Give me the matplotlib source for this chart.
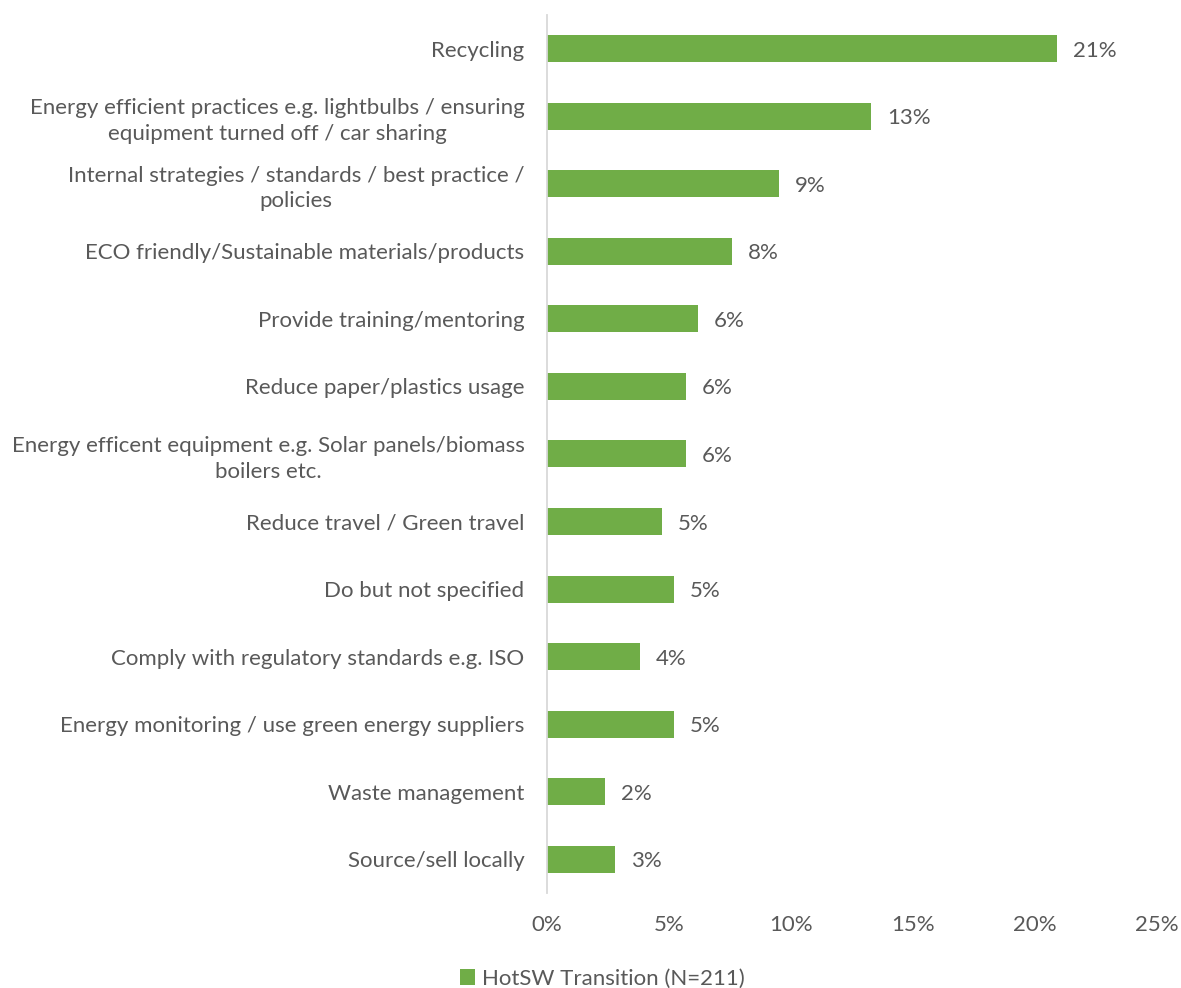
import matplotlib.pyplot as plt
from matplotlib.ticker import FuncFormatter

categories = [
    'Recycling',
    'Energy efficient practices e.g. lightbulbs / ensuring\nequipment turned off / car sharing',
    'Internal strategies / standards / best practice /\npolicies',
    'ECO friendly/Sustainable materials/products',
    'Provide training/mentoring',
    'Reduce paper/plastics usage',
    'Energy efficent equipment e.g. Solar panels/biomass\nboilers etc.',
    'Reduce travel / Green travel',
    'Do but not specified',
    'Comply with regulatory standards e.g. ISO',
    'Energy monitoring / use green energy suppliers',
    'Waste management',
    'Source/sell locally',
]
values = [20.9, 13.3, 9.5, 7.6, 6.2, 5.7, 5.7, 4.7, 5.2, 3.8, 5.2, 2.4, 2.8]
value_labels = ['21%', '13%', '9%', '8%', '6%', '6%', '6%', '5%', '5%', '4%', '5%', '2%', '3%']
series_name = 'HotSW Transition (N=211)'

GREEN = '#70AD47'
TEXT = '#595959'
FS = 16

plt.rcParams['font.family'] = ['Lato', 'DejaVu Sans']

fig = plt.figure(figsize=(11.81, 9.88), dpi=100)
ax = fig.add_axes([0.463, 0.0962, 0.5167, 0.8886])

pos = list(range(len(categories)))
bars = ax.barh(pos, values, height=0.4, color=GREEN, label=series_name)
ax.set_ylim(len(categories) - 0.5, -0.5)
ax.set_xlim(0, 25)
ax.set_xticks([0, 5, 10, 15, 20, 25])
ax.xaxis.set_major_formatter(FuncFormatter(lambda v, p: f'{v:.0f}%'))

for b, lab in zip(bars, value_labels):
    ax.text(b.get_width() + 0.65, b.get_y() + b.get_height() / 2, lab,
            va='center_baseline', ha='left', fontsize=FS, color=TEXT)

ax.set_yticks(pos)
ax.set_yticklabels(categories, fontsize=FS, color=TEXT, ha='right',
                   multialignment='center', linespacing=1.35)
ax.tick_params(axis='y', length=0, pad=16)
ax.tick_params(axis='x', length=0, pad=16, labelsize=FS, labelcolor=TEXT)

for s in ['top', 'right', 'bottom']:
    ax.spines[s].set_visible(False)
ax.spines['left'].set_color('#D9D9D9')
ax.spines['left'].set_linewidth(1.3)

fig.legend(handles=[bars], labels=[series_name], loc='lower center',
           bbox_to_anchor=(0.51, -0.021), frameon=False, fontsize=FS,
           labelcolor=TEXT, handlelength=0.7, handleheight=0.7, handletextpad=0.3)

fig.savefig('out.png', dpi=100)
